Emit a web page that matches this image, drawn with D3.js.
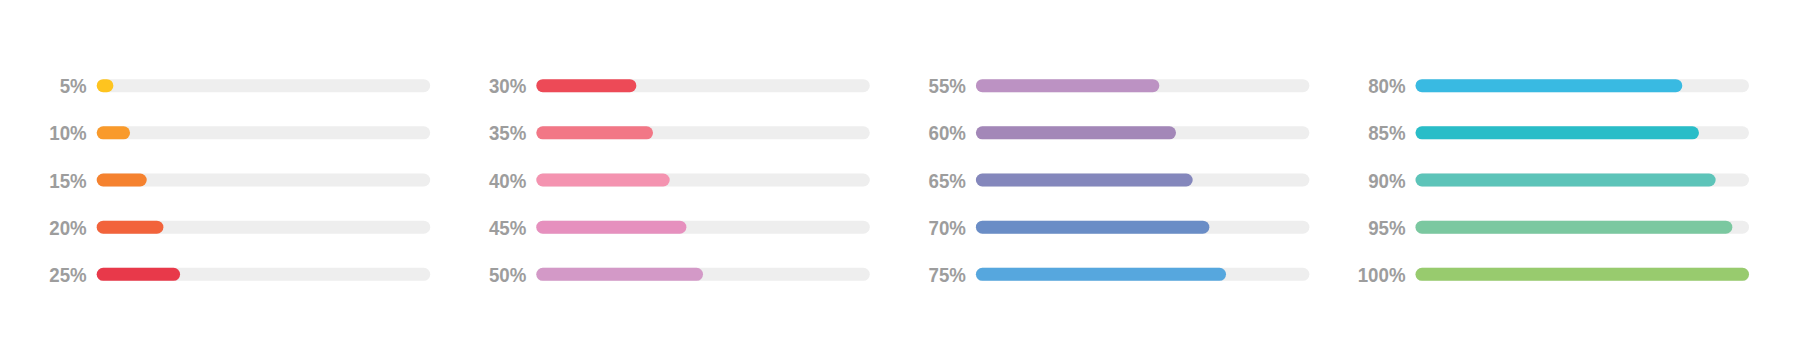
<!DOCTYPE html>
<html>
<head>
<meta charset="utf-8">
<script src="https://cdn.jsdelivr.net/npm/d3@7"></script>
<style>
  html, body { margin: 0; padding: 0; background: #fff; }
  svg { display: block; }
</style>
</head>
<body>
<div id="chart"></div>
<script>
// progress values, one bar each, 4 columns of 5
const values = [5, 10, 15, 20, 25, 30, 35, 40, 45, 50, 55, 60, 65, 70, 75, 80, 85, 90, 95, 100];
const labels = values.map(v => v + "%");
const colors = ["#fec41f", "#f99a2b", "#f5822f", "#f2633b", "#e8394a",
                "#ed4a57", "#f27786", "#f493b0", "#e690be", "#d399c7",
                "#bc92c3", "#a387b8", "#8487bc", "#6a8dc6", "#56a7de",
                "#39bae2", "#29bdc8", "#5dc4b9", "#7bc8a0", "#98cb6e"];

const width = 1800, height = 360,
      barH = 13,
      trackW = 333.5,
      rowsPerCol = 5;

const svg = d3.select("#chart")
    .append("svg")
    .attr("width", width)
    .attr("height", height);

let colX = d3.scaleLinear() // left edge of each column's track
    .domain([0, 3])
    .range([96.7, 1415.5]);

let y = d3.scalePoint() // row centres
    .domain(d3.range(rowsPerCol))
    .range([85.7, 274.3]);

let x = d3.scaleLinear() // value -> length within track
    .domain([0, 100])
    .range([0, trackW]);

let color = d3.scaleOrdinal()
    .domain(values)
    .range(colors);

const data = values.map((v, i) => ({
    value: v,
    label: labels[i],
    col: Math.floor(i / rowsPerCol),
    row: i % rowsPerCol
}));

let bar = svg.selectAll(".bar")
    .data(data)
    .join("g")
    .attr("class", "bar")
    .attr("transform", d => `translate(${colX(d.col)},${y(d.row)})`);

bar.append("rect") // grey track
    .attr("x", 0)
    .attr("y", -barH / 2)
    .attr("width", x(100))
    .attr("height", barH)
    .attr("rx", barH / 2)
    .attr("fill", "#eeeeee");

bar.append("rect") // coloured fill
    .attr("x", 0)
    .attr("y", -barH / 2)
    .attr("width", d => Math.max(barH, x(d.value)))
    .attr("height", barH)
    .attr("rx", barH / 2)
    .attr("fill", d => color(d.value));

bar.append("text") // percent label, squeezed a bit to look condensed
    .text(d => d.label)
    .attr("transform", "translate(-10,0) scale(0.89,1)")
    .attr("dy", "0.36em")
    .attr("text-anchor", "end")
    .style("font-family", "'Liberation Sans', Arial, sans-serif")
    .style("font-weight", "bold")
    .style("font-size", "21px")
    .style("fill", "#9d9d9d");
</script>
</body>
</html>
